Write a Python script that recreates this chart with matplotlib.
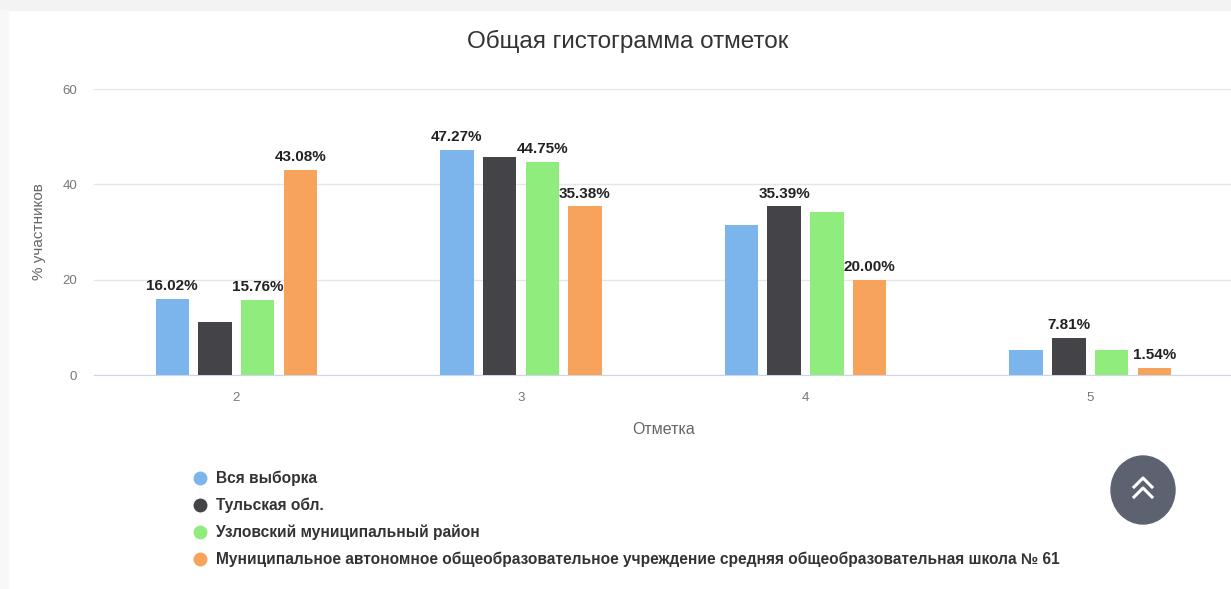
import numpy as np
import matplotlib
matplotlib.use('Agg')
import matplotlib.pyplot as plt
from matplotlib import font_manager
from matplotlib.patches import Ellipse, Rectangle
from matplotlib.lines import Line2D

otmetki = ['2', '3', '4', '5']
serii = ['Вся выборка', 'Тульская обл.', 'Узловский муниципальный район',
         'Муниципальное автономное общеобразовательное учреждение средняя общеобразовательная школа № 61']
vsya = [16.02, 47.27, 31.40, 5.31]
tula = [11.10, 45.70, 35.39, 7.81]
uzlovaya = [15.76, 44.75, 34.20, 5.29]
shkola = [43.08, 35.38, 20.00, 1.54]
# подписи, которые видны на исходной картинке
podpisi = [[True, True, False, False],
           [False, False, True, True],
           [True, True, False, False],
           [True, True, True, True]]

cveta = ['#7cb5ec', '#434348', '#90ed7d', '#f7a35c']

imena = {f.name for f in font_manager.fontManager.ttflist}
obych = 'Liberation Sans' if 'Liberation Sans' in imena else 'DejaVu Sans'
plt.rcParams['font.family'] = obych

W, H = 1231, 589
fig = plt.figure(figsize=(W / 100, H / 100), dpi=100)
fig.patch.set_facecolor('white')


def fx(x):
    return x / W


def fy(y):
    return 1 - y / H


# серые полосы по краю страницы
fig.patches.append(Rectangle((0, fy(10)), 1, 10 / H, transform=fig.transFigure,
                             color='#f3f3f3', zorder=0))
fig.patches.append(Rectangle((0, 0), 8 / W, fy(10), transform=fig.transFigure,
                             color='#f8f8f8', zorder=0))

ax = fig.add_axes([fx(94), fy(375), 1138.5 / W, 286 / H])
x = np.arange(len(otmetki))
shag = 0.15
shirina = 0.1175
dannye = [vsya, tula, uzlovaya, shkola]

for i, znach in enumerate(dannye):
    pos = x + (i - 1.5) * shag
    ax.bar(pos, znach, width=shirina, color=cveta[i], zorder=3, label=serii[i])
    for j, v in enumerate(znach):
        if podpisi[i][j]:
            ax.annotate(f'{v:.2f}%', (pos[j], v), xytext=(0, 4), textcoords='offset points',
                        ha='center', va='bottom', fontsize=11, fontweight='bold',
                        color='#222222', zorder=4)

ax.set_xlim(-0.5, 3.5)
ax.set_ylim(0, 60)
ax.set_yticks([0, 20, 40, 60])
ax.set_xticks(x)
ax.set_xticklabels(otmetki)
ax.grid(axis='y', color='#e6e6e6', lw=1, zorder=0)
for s in ['top', 'right', 'left']:
    ax.spines[s].set_visible(False)
ax.spines['bottom'].set_color('#ccd6eb')
ax.tick_params(axis='y', length=0, pad=12, labelsize=9.5, labelcolor='#777777')
ax.tick_params(axis='x', length=0, pad=12, labelsize=9.5, labelcolor='#777777')
ax.set_xlabel('Отметка', fontsize=11.5, color='#666666')
ax.xaxis.set_label_coords(0.5, -0.165)
ax.set_ylabel('% участников', fontsize=11, color='#666666')
ax.yaxis.set_label_coords(-0.042, 0.5)

fig.text(fx(628), fy(41), 'Общая гистограмма отметок', ha='center', va='center',
         fontsize=17.5, color='#333333')

# легенда
for i, nazv in enumerate(serii):
    yy = fy(478 + i * 27)
    fig.add_artist(Line2D([fx(200)], [yy], marker='o', markersize=9, color=cveta[i],
                          transform=fig.transFigure))
    fig.text(fx(216), yy, nazv, ha='left', va='center', fontsize=11.2, fontweight='bold',
             color='#333333')

# кнопка «наверх»
fig.patches.append(Ellipse((fx(1143), fy(490)), 64 / W, 68 / H, transform=fig.transFigure,
                           color='#5c6270', zorder=5))
for dy in [0, 10]:
    fig.add_artist(Line2D([fx(1134), fx(1143), fx(1152)],
                          [fy(487 + dy), fy(478 + dy), fy(487 + dy)],
                          color='white', lw=2.2, transform=fig.transFigure, zorder=6))

fig.savefig('out.png', dpi=100)
